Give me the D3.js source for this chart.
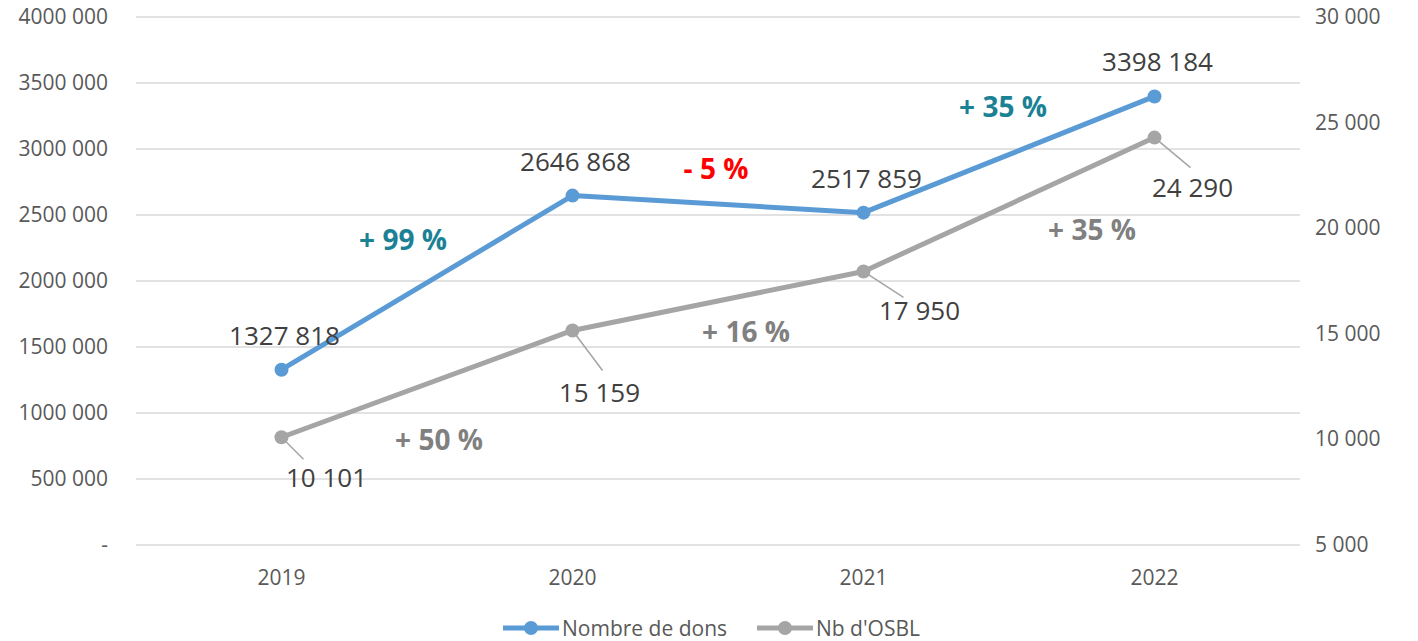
<!DOCTYPE html>
<html>
<head>
<meta charset="utf-8">
<script src="https://cdn.jsdelivr.net/npm/d3@7"></script>
<style>
  body { margin: 0; background: #fff; }
  svg text { font-family: "Open Sans", sans-serif; }
</style>
</head>
<body>
<svg id="chart" width="1418" height="641"></svg>
<script>
// data
var years = ["2019", "2020", "2021", "2022"];
var dons = [1327818, 2646868, 2517859, 3398184];
var osbl = [10101, 15159, 17950, 24290];
var leftTicks = [0, 500000, 1000000, 1500000, 2000000, 2500000, 3000000, 3500000, 4000000];
var rightTicks = [5000, 10000, 15000, 20000, 25000, 30000];
var donsGrowth = ["+ 99 %", "- 5 %", "+ 35 %"];
var osblGrowth = ["+ 50 %", "+ 16 %", "+ 35 %"];

var blue = "#5B9BD5", grey = "#A5A5A5";
var svg = d3.select("#chart");

var x = d3.scaleBand().domain(years).range([136, 1300]);
var yL = d3.scaleLinear().domain([0, 4000000]).range([545, 17]);
var yR = d3.scaleLinear().domain([5000, 30000]).range([545, 17]);
var cx = function(d, i) { return x(years[i]) + x.bandwidth() / 2; };

function fmt(v) {
    // "4000 000" style: space only before last 3 digits
    if (v === 0) return "-";
    var s = String(v);
    return s.slice(0, -3) + " " + s.slice(-3);
}

// gridlines
svg.append("g").selectAll("line").data(leftTicks).enter().append("line")
    .attr("x1", 136).attr("x2", 1300)
    .attr("y1", function(d) { return yL(d); }).attr("y2", function(d) { return yL(d); })
    .style("stroke", "#D9D9D9").style("stroke-width", 1.5);

// left axis labels
svg.append("g").selectAll("text").data(leftTicks).enter().append("text")
    .attr("x", 108).attr("y", function(d) { return yL(d) + 7; })
    .attr("text-anchor", "end").style("font-size", "21px").style("fill", "#595959")
    .text(fmt);

// right axis labels
svg.append("g").selectAll("text").data(rightTicks).enter().append("text")
    .attr("x", 1315).attr("y", function(d) { return yR(d) + 7; })
    .style("font-size", "21px").style("fill", "#595959")
    .text(function(d) { return d3.format(",")(d).replace(",", " "); });

// x labels
svg.append("g").selectAll("text").data(years).enter().append("text")
    .attr("x", function(d) { return x(d) + x.bandwidth() / 2; }).attr("y", 585)
    .attr("text-anchor", "middle").style("font-size", "21px").style("fill", "#595959")
    .text(function(d) { return d; });

// lines
var lineL = d3.line().x(cx).y(function(d) { return yL(d); });
var lineR = d3.line().x(cx).y(function(d) { return yR(d); });

svg.append("path").datum(osbl).attr("d", lineR)
    .style("fill", "none").style("stroke", grey).style("stroke-width", 5).style("stroke-linejoin", "round");
svg.append("path").datum(dons).attr("d", lineL)
    .style("fill", "none").style("stroke", blue).style("stroke-width", 5).style("stroke-linejoin", "round");

// leader lines for osbl labels
var leaderEnd = [[22, 22], [30, 40], [40, 26], [36, 30]];
svg.append("g").selectAll("line").data(osbl).enter().append("line")
    .attr("x1", cx).attr("y1", function(d) { return yR(d); })
    .attr("x2", function(d, i) { return cx(d, i) + leaderEnd[i][0]; })
    .attr("y2", function(d, i) { return yR(d) + leaderEnd[i][1]; })
    .style("stroke", grey).style("stroke-width", 1.5);

svg.append("g").selectAll("circle").data(osbl).enter().append("circle")
    .attr("cx", cx).attr("cy", function(d) { return yR(d); }).attr("r", 7)
    .style("fill", grey);
svg.append("g").selectAll("circle").data(dons).enter().append("circle")
    .attr("cx", cx).attr("cy", function(d) { return yL(d); }).attr("r", 7)
    .style("fill", blue);

// value labels
svg.append("g").selectAll("text").data(dons).enter().append("text")
    .attr("x", function(d, i) { return cx(d, i) + 3; })
    .attr("y", function(d) { return yL(d) - 25; })
    .attr("text-anchor", "middle").style("font-size", "26px").style("fill", "#404040")
    .text(function(d) { return fmt(d); });

var osblOff = [[45, 50], [27, 72], [56, 49], [38, 59]];
svg.append("g").selectAll("text").data(osbl).enter().append("text")
    .attr("x", function(d, i) { return cx(d, i) + osblOff[i][0]; })
    .attr("y", function(d, i) { return yR(d) + osblOff[i][1]; })
    .attr("text-anchor", "middle").style("font-size", "26px").style("fill", "#404040")
    .text(function(d) { return fmt(d); });

// growth labels, placed between categories (anchor given in axis units)
var donsGrowthPos = [[403, 2234000, "#1B8195"], [716, 2773000, "#FF0000"], [1003, 3242000, "#1B8195"]];
svg.append("g").selectAll("text").data(donsGrowth).enter().append("text")
    .attr("x", function(d, i) { return donsGrowthPos[i][0]; })
    .attr("y", function(d, i) { return yL(donsGrowthPos[i][1]); })
    .attr("text-anchor", "middle").style("font-size", "28px").style("font-weight", "bold")
    .style("fill", function(d, i) { return donsGrowthPos[i][2]; })
    .text(function(d) { return d; });

var osblGrowthPos = [[439, 9500], [746, 14610], [1092, 19440]];
svg.append("g").selectAll("text").data(osblGrowth).enter().append("text")
    .attr("x", function(d, i) { return osblGrowthPos[i][0]; })
    .attr("y", function(d, i) { return yR(osblGrowthPos[i][1]); })
    .attr("text-anchor", "middle").style("font-size", "28px").style("font-weight", "bold")
    .style("fill", "#808080")
    .text(function(d) { return d; });

// legend
var legend = [["Nombre de dons", blue, 503], ["Nb d'OSBL", grey, 757]];
var lg = svg.append("g").selectAll("g").data(legend).enter().append("g")
    .attr("transform", function(d) { return "translate(" + d[2] + ",628)"; });
lg.append("line").attr("x1", 0).attr("x2", 56).attr("y1", 0).attr("y2", 0)
    .style("stroke", function(d) { return d[1]; }).style("stroke-width", 5);
lg.append("circle").attr("cx", 28).attr("cy", 0).attr("r", 7)
    .style("fill", function(d) { return d[1]; });
lg.append("text").attr("x", 59).attr("y", 8).style("font-size", "21px").style("fill", "#595959")
    .text(function(d) { return d[0]; });
</script>
</body>
</html>
